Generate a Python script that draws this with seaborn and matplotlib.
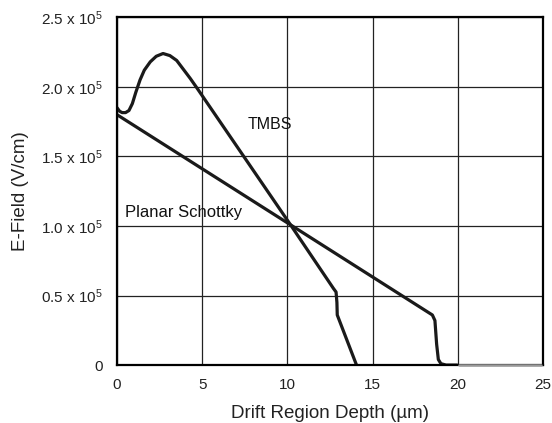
import pandas as pd
import matplotlib.pyplot as plt
import seaborn as sns

tmbs_x = [0.0, 0.15, 0.3, 0.5, 0.7, 0.9, 1.1, 1.35, 1.6, 1.95, 2.3, 2.7, 3.1, 3.5, 3.9, 4.3, 4.7,
          10.18, 12.7, 12.85, 12.9, 12.92, 14.05]
tmbs_y = [1.85, 1.825, 1.815, 1.815, 1.83, 1.88, 1.96, 2.05, 2.12, 2.18, 2.22, 2.24, 2.225, 2.19, 2.125, 2.06, 1.99,
          1.008, 0.55, 0.525, 0.45, 0.36, 0.0]
planar_x = [0.0, 10.18, 18.5, 18.65, 18.75, 18.85, 19.0, 19.3, 19.95]
planar_y = [1.80, 1.008, 0.36, 0.32, 0.15, 0.04, 0.01, 0.0, 0.0]

x_ticks = [0, 5, 10, 15, 20, 25]
y_ticks = [0, 0.5, 1.0, 1.5, 2.0, 2.5]
y_labels = ['0', '0.5 x 10$^5$', '1.0 x 10$^5$', '1.5 x 10$^5$', '2.0 x 10$^5$', '2.5 x 10$^5$']

sns.set_style('white')
plt.rcParams['font.family'] = ['Liberation Sans', 'DejaVu Sans']
plt.rcParams['mathtext.fontset'] = 'custom'
plt.rcParams['mathtext.rm'] = 'Liberation Sans'
plt.rcParams['mathtext.it'] = 'Liberation Sans'

df = pd.concat([
    pd.DataFrame({'depth': tmbs_x, 'field': tmbs_y, 'curve': 'TMBS'}),
    pd.DataFrame({'depth': planar_x, 'field': planar_y, 'curve': 'Planar Schottky'}),
])

fig = plt.figure(figsize=(5.52, 4.23), dpi=100)
ax = fig.add_axes([0.212, 0.137, 0.772, 0.822])

sns.lineplot(data=df, x='depth', y='field', units='curve', estimator=None, sort=False,
             color='#1a1a1a', linewidth=2.3, ax=ax, legend=False)

ax.set_xlim(0, 25)
ax.set_ylim(0, 2.5)
ax.set_xticks(x_ticks)
ax.set_yticks(y_ticks)
ax.set_yticklabels(y_labels)
ax.grid(True, color='#222222', linewidth=0.9)
ax.set_axisbelow(True)
for s in ax.spines.values():
    s.set_color('black')
    s.set_linewidth(1.6)
ax.tick_params(length=0, labelsize=11, colors='#222222')
ax.tick_params(axis='x', pad=9)
ax.tick_params(axis='y', pad=10)

# lighter stretch of the bottom edge
ax.plot([20.05, 24.85], [0, 0], color='#999999', linewidth=1.8, clip_on=False, zorder=5)

ax.text(8.95, 1.73, 'TMBS', fontsize=11.5, ha='center', va='center', color='#111111')
ax.text(0.45, 1.10, 'Planar Schottky', fontsize=12, ha='left', va='center', color='#111111')

ax.set_xlabel('Drift Region Depth (\u00b5m)', fontsize=13.5, color='#222222', labelpad=10)
ax.set_ylabel('E-Field (V/cm)', fontsize=13.5, color='#222222', labelpad=9)

fig.savefig('out.png', dpi=100)
